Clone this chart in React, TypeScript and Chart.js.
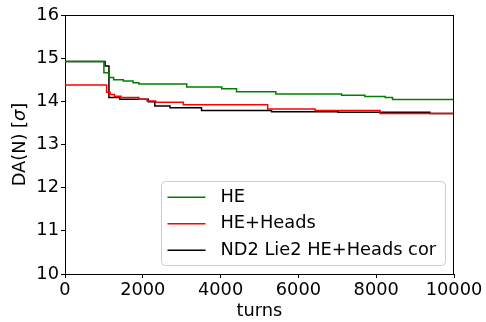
import React, { useEffect, useRef } from "react";
import { Chart, registerables } from "chart.js";

Chart.register(...registerables);

const turnsHE = [0, 1000, 1130, 1250, 1500, 1750, 1900, 3130, 4030, 4410, 5420, 7110, 7710, 8230, 8420, 10000];
const daHE = [14.92, 14.66, 14.55, 14.5, 14.47, 14.43, 14.4, 14.33, 14.29, 14.22, 14.17, 14.14, 14.11, 14.09, 14.04, 14.04];

const turnsHeads = [0, 1070, 1160, 1270, 1440, 1900, 2110, 2330, 3040, 5210, 6430, 8100, 10000];
const daHeads = [14.38, 14.21, 14.16, 14.12, 14.09, 14.05, 14.01, 13.98, 13.92, 13.82, 13.79, 13.72, 13.72];

const turnsCor = [0, 1030, 1130, 1410, 2140, 2310, 2700, 3510, 5310, 7020, 9380, 10000];
const daCor = [14.92, 14.82, 14.09, 14.05, 13.99, 13.89, 13.85, 13.79, 13.76, 13.75, 13.72, 13.72];

const seriesNames = ["HE", "HE+Heads", "ND2 Lie2 HE+Heads cor"];
const seriesColors = ["#008000", "#ff0000", "#000000"];

const FONT = "DejaVu Sans";
const FS = 17.8;

const pts = (xs: number[], ys: number[]) => xs.map((x, i) => ({ x, y: ys[i] }));

const decorPlugin = {
  id: "decor",
  afterDraw(chart: any) {
    const { ctx, chartArea } = chart;
    const { left, right, top, bottom } = chartArea;
    ctx.save();
    ctx.strokeStyle = "#000";
    ctx.lineWidth = 1;
    ctx.beginPath();
    ctx.moveTo(left, Math.round(top) + 0.5);
    ctx.lineTo(right, Math.round(top) + 0.5);
    ctx.moveTo(Math.round(right) - 0.5, top);
    ctx.lineTo(Math.round(right) - 0.5, bottom);
    ctx.stroke();
    // legend
    const w = 284, h = 84;
    const lx = right - 8.5 - w, ly = bottom - 8.5 - h;
    ctx.beginPath();
    if ((ctx as any).roundRect) (ctx as any).roundRect(lx, ly, w, h, 4);
    else ctx.rect(lx, ly, w, h);
    ctx.fillStyle = "rgba(255,255,255,0.8)";
    ctx.fill();
    ctx.strokeStyle = "#cccccc";
    ctx.lineWidth = 1;
    ctx.stroke();
    ctx.font = `${FS}px '${FONT}'`;
    ctx.textBaseline = "middle";
    ctx.textAlign = "left";
    seriesNames.forEach((name, i) => {
      const yy = ly + 15.7 + i * 26.5;
      ctx.beginPath();
      ctx.moveTo(lx + 6, yy);
      ctx.lineTo(lx + 44, yy);
      ctx.strokeStyle = seriesColors[i];
      ctx.lineWidth = 1.5;
      ctx.stroke();
      ctx.fillStyle = "#000";
      ctx.fillText(name, lx + 59, yy);
    });
    // x title
    ctx.textAlign = "center";
    ctx.fillText("turns", (left + right) / 2, bottom + 37);
    // y title with italic sigma
    ctx.translate(20, (top + bottom) / 2);
    ctx.rotate(-Math.PI / 2);
    const p1 = "DA(N) [";
    const p2 = "σ";
    const p3 = "]";
    ctx.font = `${FS}px '${FONT}'`;
    const w1 = ctx.measureText(p1).width;
    const w3 = ctx.measureText(p3).width;
    ctx.font = `italic ${FS}px '${FONT}'`;
    const w2 = ctx.measureText(p2).width;
    let x0 = -(w1 + w2 + w3) / 2;
    ctx.textAlign = "left";
    ctx.font = `${FS}px '${FONT}'`;
    ctx.fillText(p1, x0, 0);
    x0 += w1;
    ctx.font = `italic ${FS}px '${FONT}'`;
    ctx.fillText(p2, x0, 0);
    x0 += w2;
    ctx.font = `${FS}px '${FONT}'`;
    ctx.fillText(p3, x0, 0);
    ctx.restore();
  },
};

export default function App() {
  const ref = useRef<HTMLCanvasElement | null>(null);
  useEffect(() => {
    if (!ref.current) return;
    const datasets = [
      pts(turnsHE, daHE),
      pts(turnsHeads, daHeads),
      pts(turnsCor, daCor),
    ].map((data, i) => ({
      label: seriesNames[i],
      data,
      borderColor: seriesColors[i],
      backgroundColor: seriesColors[i],
      borderWidth: 1.5,
      pointRadius: 0,
      stepped: "before" as const,
      fill: false,
    }));
    const chart = new Chart(ref.current, {
      type: "line",
      data: { datasets },
      plugins: [decorPlugin],
      options: {
        animation: false,
        responsive: false,
        devicePixelRatio: 1,
        layout: { padding: { left: 0, top: 15, right: 32, bottom: 0 } },
        plugins: { legend: { display: false }, tooltip: { enabled: false } },
        scales: {
          x: {
            type: "linear",
            min: 0,
            max: 10000,
            afterFit: (s: any) => { s.height = 48; },
            ticks: {
              stepSize: 2000,
              color: "#000",
              font: { family: FONT, size: FS },
              padding: 2,
              maxRotation: 0,
              callback: (v: any) => String(v),
            },
            grid: { display: true, drawOnChartArea: false, drawTicks: true, tickLength: 4, color: "#000" },
            border: { display: true, color: "#000", width: 1 },
          },
          y: {
            type: "linear",
            min: 10,
            max: 16,
            afterFit: (s: any) => { s.width = 65; },
            ticks: {
              stepSize: 1,
              color: "#000",
              font: { family: FONT, size: FS },
              padding: 2,
              callback: (v: any) => String(v),
            },
            grid: { display: true, drawOnChartArea: false, drawTicks: true, tickLength: 4, color: "#000" },
            border: { display: true, color: "#000", width: 1 },
          },
        },
      },
    });
    return () => chart.destroy();
  }, []);
  return (
    <div style={{ position: "fixed", left: 0, top: 0, width: 486, height: 322, background: "#fff" }}>
      <canvas ref={ref} width={486} height={322} style={{ width: 486, height: 322, display: "block" }} />
    </div>
  );
}
